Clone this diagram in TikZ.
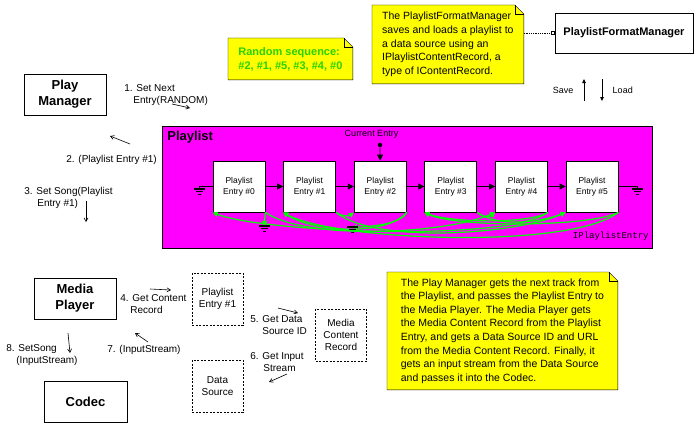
\documentclass[tikz,border=0pt]{standalone}
\usepackage{fontspec}
\setmainfont{Liberation Sans}
\setmonofont{Liberation Mono}
\usetikzlibrary{positioning,arrows.meta,backgrounds}

\definecolor{notey}{RGB}{255,255,0}
\definecolor{plmag}{RGB}{255,0,255}
\definecolor{lnkgreen}{RGB}{0,255,0}
\definecolor{seqgreen}{RGB}{40,210,0}

\newcommand{\earth}[1]{%
  \draw[line width=1.3pt] ([xshift=-5.5pt]#1) -- ([xshift=5.5pt]#1);
  \draw[line width=1.1pt] ([xshift=-3.5pt,yshift=-2.5pt]#1) -- ([xshift=3.5pt,yshift=-2.5pt]#1);
  \draw[line width=1pt] ([xshift=-1.5pt,yshift=-5pt]#1) -- ([xshift=1.5pt,yshift=-5pt]#1);}

\newcommand{\dogear}[1]{%
  \filldraw[fill=notey] (#1.north west) -- ([xshift=-9pt]#1.north east) -- ([yshift=-9pt]#1.north east) -- (#1.south east) -- (#1.south west) -- cycle;
  \draw ([xshift=-9pt]#1.north east) |- ([yshift=-9pt]#1.north east);}

\begin{document}
\begin{tikzpicture}[x=1pt,y=-1pt,line width=0.8pt,>={Straight Barb[length=3.5pt,width=4pt]},node distance=70.6pt,
    main box/.style={draw,align=center,font=\fontsize{13}{16}\selectfont\bfseries,minimum width=82pt,minimum height=41pt},
    entry node/.style={draw,fill=white,align=center,font=\fontsize{8.5}{11}\selectfont,minimum width=52pt,minimum height=51pt},
    obj node/.style={draw,dash pattern=on 2pt off 1.5pt,align=center,font=\fontsize{10}{12}\selectfont,minimum width=51pt,minimum height=52pt},
    note node/.style={align=left,font=\fontsize{10.5}{13.6}\selectfont,inner xsep=4pt,anchor=north west},
    step label/.style={align=left,font=\fontsize{10}{12}\selectfont,inner sep=0pt,anchor=north west},
    msg/.style={->,line width=0.6pt},
    chain/.style={-{Triangle[length=6pt,width=6pt]}},
    link/.style={draw=lnkgreen,line width=1.2pt,-{Triangle[length=5pt,width=5pt]}}]

    \useasboundingbox (0,0) rectangle (700,444);

    \node (pm) [main box] at (65,94.5) {Play\\Manager};
    \node (mp) [main box] at (75,298.5) {Media\\Player};
    \node (cd) [main box,minimum width=83pt] at (85.5,401.5) {Codec};
    \node (pfm) [main box,font=\fontsize{11}{13}\selectfont\bfseries,minimum width=138pt,minimum height=40pt] at (624,33) {PlaylistFormatManager};

    \node (pe1) [obj node] at (217.5,299) {Playlist\\Entry \#1};
    \node (mcr) [obj node] at (341,335) {Media\\Content\\Record};
    \node (ds) [obj node] at (217.5,386) {Data\\Source};

    % playlist
    \node (pl) [draw,fill=plmag,minimum width=490pt,minimum height=122pt,anchor=north west] at (162,126) {};
    \node (pltitle) [anchor=north west,inner sep=0pt,font=\fontsize{13}{15}\selectfont\bfseries] at (167,131) {Playlist};
    \node (ipe) [anchor=south east,inner sep=0pt,font=\ttfamily\fontsize{9}{11}\selectfont] at (649,241) {IPlaylistEntry};

    \node (e0) [entry node] at (239,186.5) {Playlist\\Entry \#0};
    \node (e1) [entry node,right of=e0] {Playlist\\Entry \#1};
    \node (e2) [entry node,right of=e1] {Playlist\\Entry \#2};
    \node (e3) [entry node,right of=e2] {Playlist\\Entry \#3};
    \node (e4) [entry node,right of=e3] {Playlist\\Entry \#4};
    \node (e5) [entry node,right of=e4] {Playlist\\Entry \#5};

    \path[chain] (e0) edge (e1) (e1) edge (e2) (e2) edge (e3) (e3) edge (e4) (e4) edge (e5);

    \node (curtxt) [font=\fontsize{9}{11}\selectfont] at (371.5,134.5) {Current Entry};
    \node (cur) [circle,fill,inner sep=0pt,minimum size=4.5pt] at (380,145) {};
    \draw[chain] (cur) -- (e2);

    \coordinate (g0) at (199,189);
    \coordinate (g5) at (637,189);
    \draw (e0.west) -| (g0);
    \draw (e5.east) -| (g5);
    \earth{g0}
    \earth{g5}

    % random order links
    \coordinate (g6) at (264,226);
    \coordinate (g7) at (352,227);
    \draw[link] (e0.south east) -- (g6);
    \draw[link] (e0.south east) .. controls +(40,28) and +(-50,22) .. (e4.south west);
    \draw[link] (e4.south east) .. controls +(-40,30) and +(50,20) .. (e0.south west);
    \draw[link] (e1.south east) .. controls +(5,4) and +(-5,4) .. (e2.south west);
    \draw[link] (e2.south east) .. controls +(-20,24) and +(30,20) .. (e1.south west);
    \draw[link] (e2.south east) .. controls +(-5,12) and +(15,0) .. (g7);
    \draw[link] (e1.south east) .. controls +(40,32) and +(-50,22) .. (e5.south west);
    \draw[link] (e5.south east) .. controls +(-50,38) and +(50,28) .. (e1.south west);
    \draw[link] (e5.south east) .. controls +(-30,15) and +(30,15) .. (e3.south west);
    \draw[link] (e3.south east) .. controls +(20,15) and +(-25,10) .. (e5.south west);
    \draw[link] (e3.south east) .. controls +(5,5) and +(-5,5) .. (e4.south west);
    \draw[link] (e4.south east) .. controls +(-20,12) and +(25,10) .. (e3.south west);
    \earth{g6}
    \earth{g7}

    % notes
    \node (seqnote) [note node,font=\fontsize{11}{14}\selectfont\bfseries,text=seqgreen,minimum width=124pt,minimum height=41pt] at (228,38) {Random sequence:\\\#2, \#1, \#5, \#3, \#4, \#0};
    \node (fmnote) [note node,minimum width=151pt,minimum height=78pt] at (372,5) {The PlaylistFormatManager\\saves and loads a playlist to\\a data source using an\\IPlaylistContentRecord, a\\type of IContentRecord.};
    \node (pmnote) [note node,minimum width=230pt,minimum height=117pt] at (387,272) {The Play Manager gets the next track from\\the Playlist, and passes the Playlist Entry to\\the Media Player. The Media Player gets\\the Media Content Record from the Playlist\\Entry, and gets a Data Source ID and URL\\from the Media Content Record. Finally, it\\gets an input stream from the Data Source\\and passes it into the Codec.};
    \begin{scope}[on background layer]
        \dogear{seqnote}
        \dogear{fmnote}
        \dogear{pmnote}
    \end{scope}

    \node (sq) [draw,fill=white,inner sep=0pt,minimum size=3pt] at ([xshift=-1.5pt]pfm.west) {};
    \draw[densely dotted] (fmnote.east |- sq) -- (sq.west);

    \node (sv) [anchor=east,font=\fontsize{9}{11}\selectfont] at (577,90) {Save};
    \node (ld) [anchor=west,font=\fontsize{9}{11}\selectfont] at (609,90) {Load};
    \coordinate (sva) at (584,101);
    \coordinate (svb) at (584,79);
    \coordinate (lda) at (602,79);
    \coordinate (ldb) at (602,101);
    \draw[-{Triangle[length=4pt,width=3.5pt]}] (sva) -- (svb);
    \draw[-{Triangle[length=4pt,width=3.5pt]}] (lda) -- (ldb);

    % steps
    \node (s1) [step label] at (124,84) {1. Set Next\\\hspace*{9pt}Entry(RANDOM)};
    \node (s2) [step label] at (66,155) {2. (Playlist Entry \#1)};
    \node (s3) [step label] at (24,187) {3. Set Song(Playlist\\\hspace*{13pt}Entry \#1)};
    \node (s4) [step label] at (120,294) {4. Get Content\\\hspace*{10pt}Record};
    \node (s5) [step label] at (250,315) {5. Get Data\\\hspace*{12pt}Source ID};
    \node (s6) [step label] at (250,352) {6. Get Input\\\hspace*{13pt}Stream};
    \node (s7) [step label] at (107,345) {7. (InputStream)};
    \node (s8) [step label] at (6,344) {8. SetSong\\\hspace*{10pt}(InputStream)};

    \coordinate (m1a) at (172,104); \coordinate (m1b) at (190,108);
    \coordinate (m2a) at (130,144); \coordinate (m2b) at (110,136);
    \coordinate (m3a) at (86,201);  \coordinate (m3b) at (86,222);
    \coordinate (m4a) at (150,289); \coordinate (m4b) at (171,290);
    \coordinate (m5a) at (278,308); \coordinate (m5b) at (298,313);
    \coordinate (m6a) at (287,374); \coordinate (m6b) at (269,382);
    \coordinate (m7a) at (148,342); \coordinate (m7b) at (135,333);
    \coordinate (m8a) at (68,333);  \coordinate (m8b) at (70,353);
    \draw[msg] (m1a) -- (m1b);
    \draw[msg] (m2a) -- (m2b);
    \draw[msg] (m3a) -- (m3b);
    \draw[msg] (m4a) -- (m4b);
    \draw[msg] (m5a) -- (m5b);
    \draw[msg] (m6a) -- (m6b);
    \draw[msg] (m7a) -- (m7b);
    \draw[msg] (m8a) -- (m8b);
\end{tikzpicture}
\end{document}
